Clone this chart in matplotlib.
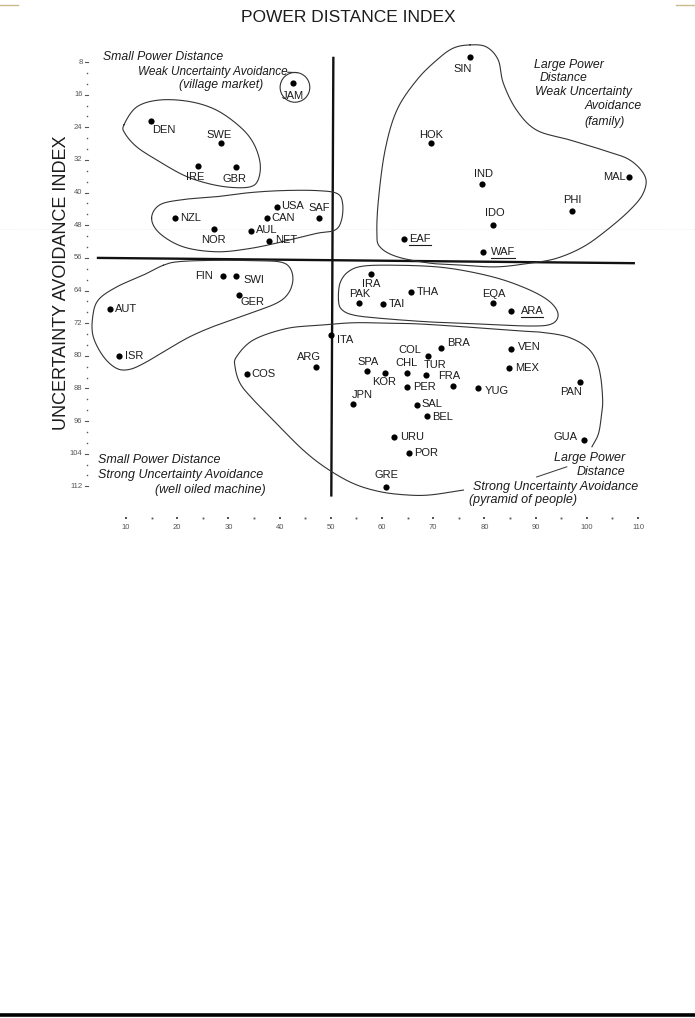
import numpy as np
import matplotlib
matplotlib.use("Agg")
import matplotlib.pyplot as plt
from matplotlib.lines import Line2D
from matplotlib.patches import Ellipse

plt.rcParams['font.family'] = ['Liberation Sans', 'DejaVu Sans']

# country codes with power distance (x) and uncertainty avoidance (y)
codes = ['SIN', 'JAM', 'DEN', 'SWE', 'IRE', 'GBR', 'HOK', 'IND', 'MAL', 'PHI',
         'IDO', 'EAF', 'WAF', 'USA', 'CAN', 'SAF', 'NZL', 'NOR', 'AUL', 'NET',
         'FIN', 'SWI', 'GER', 'AUT', 'ISR', 'IRA', 'PAK', 'THA', 'TAI', 'EQA',
         'ARA', 'ITA', 'ARG', 'COS', 'SPA', 'KOR', 'COL', 'CHL', 'TUR', 'BRA',
         'FRA', 'PER', 'VEN', 'MEX', 'YUG', 'PAN', 'JPN', 'SAL', 'BEL', 'URU',
         'GUA', 'POR', 'GRE']
pdi = [77.1, 42.6, 14.8, 28.5, 24.1, 31.4, 69.5, 79.5, 108.3, 97.2,
       81.7, 64.3, 79.7, 39.4, 37.5, 47.6, 19.5, 27.1, 34.4, 38.0,
       29.0, 31.5, 32.0, 6.9, 8.6, 57.8, 55.6, 65.7, 60.1, 81.7,
       85.1, 50.0, 47.1, 33.6, 57.0, 60.5, 68.9, 64.9, 68.5, 71.6,
       73.9, 64.9, 85.1, 84.9, 78.8, 98.7, 54.3, 66.9, 68.8, 62.3,
       99.5, 65.3, 60.8]
uai = [6.8, 13.2, 22.4, 27.9, 33.4, 33.8, 27.9, 37.8, 36.1, 44.5,
       47.9, 51.3, 54.6, 43.5, 46.3, 46.2, 46.2, 49.0, 49.4, 51.8,
       60.5, 60.5, 65.0, 68.6, 80.1, 60.0, 67.0, 64.4, 67.4, 67.1,
       69.0, 74.9, 82.7, 84.5, 83.7, 84.3, 80.0, 84.1, 84.6, 78.1,
       87.5, 87.7, 78.4, 83.1, 87.8, 86.3, 91.9, 92.1, 94.8, 99.8,
       100.7, 103.7, 112.1]
underlined = ['EAF', 'WAF', 'ARA']

# label placement: offset of label from dot in pixels (right, down) and alignment
place = {
    'JAM': (0, 13, 'center'), 'DEN': (2, 9, 'left'), 'SWE': (-2, -8, 'center'),
    'IRE': (-3, 11, 'center'), 'GBR': (-1, 12, 'center'), 'USA': (5, -1, 'left'),
    'CAN': (5, 0, 'left'), 'SAF': (1, -10, 'center'), 'NZL': (5, 0, 'left'),
    'NOR': (0, 11, 'center'), 'AUL': (5, -1, 'left'), 'NET': (6, -1, 'left'),
    'SIN': (-7, 12, 'center'), 'HOK': (0, -8, 'center'), 'IND': (2, -10, 'center'),
    'MAL': (-4, 0, 'right'), 'PHI': (0, -11, 'center'), 'IDO': (2, -12, 'center'),
    'EAF': (5, 0, 'left'), 'WAF': (8, 0, 'left'), 'FIN': (-10, 0, 'right'),
    'SWI': (7, 4, 'left'), 'GER': (2, 7, 'left'), 'AUT': (5, 0, 'left'),
    'ISR': (6, 0, 'left'), 'ITA': (6, 5, 'left'), 'ARG': (-7, -10, 'center'),
    'COS': (5, 0, 'left'), 'SPA': (1, -9, 'center'), 'JPN': (9, -9, 'center'),
    'IRA': (0, 10, 'center'), 'PAK': (0, -9, 'center'), 'THA': (6, 0, 'left'),
    'TAI': (6, 0, 'left'), 'EQA': (1, -9, 'center'), 'ARA': (10, 0, 'left'),
    'BRA': (6, -5, 'left'), 'COL': (-6, -6, 'right'), 'VEN': (7, -2, 'left'),
    'MEX': (6, 0, 'left'), 'KOR': (0, 9, 'center'), 'CHL': (-1, -10, 'center'),
    'TUR': (-2, -10, 'left'), 'FRA': (-4, -10, 'center'), 'PER': (6, 0, 'left'),
    'YUG': (6, 3, 'left'), 'PAN': (-9, 10, 'center'), 'SAL': (4, -1, 'left'),
    'BEL': (5, 1, 'left'), 'URU': (6, 0, 'left'), 'GUA': (-7, -3, 'right'),
    'POR': (5, 0, 'left'), 'GRE': (0, -12, 'center'),
}

# hand drawn cluster outlines (data units)
nordic_x = [9.6, 12.1, 16.6, 22.5, 27.7, 32.3, 34.9, 36.2, 35.8, 34.2, 30.3, 25.8, 21.2, 16.0, 12.1, 9.8]
nordic_y = [23.4, 19.0, 17.3, 17.7, 19.8, 23.9, 27.9, 32.8, 36.9, 38.6, 38.7, 37.7, 35.7, 32.0, 28.8, 25.5]

anglo_x = [15.0, 16.6, 21.2, 27.7, 34.2, 40.7, 47.2, 51.2, 52.3, 52.1, 50.8, 47.2, 40.7, 34.2, 27.7, 21.2, 16.6]
anglo_y = [46.3, 43.0, 41.7, 41.0, 40.0, 39.5, 39.5, 40.2, 42.6, 46.7, 49.2, 50.0, 52.0, 53.7, 54.5, 53.3, 50.0]

asia_x = [77.2, 80.4, 82.7, 83.7, 86.3, 90.2, 96.7, 103.2, 108.4, 111.4, 111.0, 108.4, 103.9, 99.3,
          94.1, 88.9, 82.4, 75.9, 69.4, 62.9, 59.6, 59.0, 59.3, 60.6, 62.9, 66.8, 70.7, 73.9]
asia_y = [3.8, 4.3, 7.5, 13.2, 19.8, 24.7, 27.1, 29.6, 32.0, 36.1, 40.2, 44.3, 49.2, 53.3,
          56.1, 57.3, 58.2, 57.8, 57.3, 55.7, 53.3, 50.0, 41.8, 29.6, 19.8, 12.4, 7.5, 4.6]

german_x = [17.3, 20.5, 27.7, 35.5, 40.1, 42.0, 42.6, 41.7, 39.4, 34.2, 27.7, 22.5, 17.9, 14.0,
            10.8, 8.2, 5.6, 3.6, 3.5, 4.6, 8.2, 13.4]
german_y = [57.8, 56.9, 56.6, 56.7, 57.0, 58.4, 61.4, 64.7, 67.1, 69.6, 72.5, 75.3, 78.6, 81.5,
            83.3, 83.1, 80.2, 75.3, 70.4, 66.3, 63.1, 60.2]

near_east_x = [51.5, 51.8, 53.4, 56.4, 62.9, 70.7, 77.2, 83.7, 89.6, 93.1, 94.4, 93.1, 88.9, 79.1,
               69.4, 59.6, 54.4, 52.1]
near_east_y = [66.3, 62.2, 59.4, 58.0, 57.8, 58.2, 59.4, 61.4, 64.3, 67.1, 70.0, 72.2, 72.7, 72.2,
               71.7, 70.8, 70.0, 68.6]

latin_x = [75.9, 69.4, 64.8, 59.6, 54.4, 49.2, 44.6, 39.4, 34.9, 32.3, 31.3, 31.6, 34.9, 41.4, 47.9,
           54.4, 60.9, 67.4, 77.2, 86.9, 90.9, 96.1, 99.9, 101.8, 102.7, 103.1, 102.9, 102.3, 101.0]
latin_y = [112.9, 114.1, 114.1, 113.3, 111.3, 107.6, 103.1, 96.6, 90.8, 86.8, 82.7, 80.2, 76.1, 73.3, 72.5,
           71.9, 72.0, 72.2, 73.0, 73.9, 74.2, 75.3, 77.8, 81.0, 85.1, 90.8, 94.1, 99.0, 102.3]

jam_ring = (43.0, 14.2, 5.8, 7.3)  # centre x, centre y, width, height

# dividing lines
vline_x = [50.5, 50.1]
vline_y = [6.7, 114.5]
hline_x = [4.3, 109.4]
hline_y = [56.0, 57.3]

x_ticks = list(range(10, 111, 10))
x_minor = list(range(15, 111, 10))
y_ticks = list(range(8, 113, 8))


def smooth(xs, ys, closed=True, n=24):
    p = np.column_stack([xs, ys]).astype(float)
    if closed:
        p = np.vstack([p[-1], p, p[0], p[1]])
    else:
        p = np.vstack([2 * p[0] - p[1], p, 2 * p[-1] - p[-2]])
    t = np.linspace(0, 1, n, endpoint=False)[:, None]
    out = []
    for i in range(1, len(p) - 2):
        p0, p1, p2, p3 = p[i - 1], p[i], p[i + 1], p[i + 2]
        seg = 0.5 * (2 * p1 + (-p0 + p2) * t + (2 * p0 - 5 * p1 + 4 * p2 - p3) * t ** 2
                     + (-p0 + 3 * p1 - 3 * p2 + p3) * t ** 3)
        out.append(seg)
    out.append(p[-2][None])
    c = np.vstack(out)
    return c[:, 0], c[:, 1]


fig = plt.figure(figsize=(6.95, 10.18), dpi=100)
ax = fig.add_axes([74.8 / 695, 1 - 543.5 / 1018, 614.4 / 695, 514.1 / 1018])
ax.set_xlim(0, 120)
ax.set_ylim(126, 0)
ax.axis('off')

ink = '#1c1c1c'
line_col = '#333333'

# dividing cross
ax.plot(vline_x, vline_y, color='#111111', lw=1.7, solid_capstyle='butt')
ax.plot(hline_x, hline_y, color='#111111', lw=1.7, solid_capstyle='butt')

# outlines
for xs, ys in [(nordic_x, nordic_y), (anglo_x, anglo_y), (asia_x, asia_y),
               (german_x, german_y), (near_east_x, near_east_y)]:
    sx, sy = smooth(xs, ys, closed=True)
    ax.plot(sx, sy, color=line_col, lw=0.8)
sx, sy = smooth(latin_x, latin_y, closed=False)
ax.plot(sx, sy, color=line_col, lw=0.8)
ax.add_patch(Ellipse(jam_ring[:2], jam_ring[2], jam_ring[3], fill=False, ec=line_col, lw=0.8))
ax.plot([41.6, 43.4], [10.5, 10.6], color=line_col, lw=0.8)
ax.plot([90.2, 96.1], [109.7, 107.2], color=line_col, lw=0.7)

# countries
ax.scatter(pdi, uai, s=20, color='black', zorder=5, linewidths=0)
label_artists = {}
for c, x, y in zip(codes, pdi, uai):
    dx, dy, ha = place[c]
    t = ax.annotate(c, (x, y), xytext=(dx, -dy), textcoords='offset pixels',
                    ha=ha, va='center', fontsize=8, color=ink)
    label_artists[c] = t

# quadrant captions
it = dict(style='italic', fontsize=8.8, color=ink)
ib = dict(style='italic', fontsize=9.0, color=ink)
ax.text(5.6, 6.8, 'Small Power Distance', ha='left', va='center', **it)
ax.text(12.4, 10.4, 'Weak Uncertainty Avoidance', ha='left', va='center',
        style='italic', fontsize=8.5, color=ink)
ax.text(28.5, 13.6, '(village market)', ha='center', va='center', **it)

ax.text(89.7, 8.7, 'Large Power', ha='left', va='center', **it)
ax.text(90.7, 11.8, 'Distance', ha='left', va='center', **it)
ax.text(89.9, 15.3, 'Weak Uncertainty', ha='left', va='center', **it)
ax.text(99.6, 18.8, 'Avoidance', ha='left', va='center', **it)
ax.text(99.6, 22.6, '(family)', ha='left', va='center', **it)

ax.text(4.6, 105.5, 'Small Power Distance', ha='left', va='center', **ib)
ax.text(4.6, 109.2, 'Strong Uncertainty Avoidance', ha='left', va='center', **ib)
ax.text(15.7, 112.9, '(well oiled machine)', ha='left', va='center', **ib)

ax.text(107.5, 105.1, 'Large Power', ha='right', va='center', **ib)
ax.text(107.5, 108.4, 'Distance', ha='right', va='center', **ib)
ax.text(77.7, 112.1, 'Strong Uncertainty Avoidance', ha='left', va='center', **ib)
ax.text(77.0, 115.4, '(pyramid of people)', ha='left', va='center', **ib)

# axis ticks drawn by hand like the original
tick_col = '#555555'
for v in y_ticks:
    ax.text(1.5, v, str(v), ha='right', va='center', fontsize=5.5, color=tick_col)
    ax.plot([1.9, 2.6], [v, v], color=tick_col, lw=0.8, clip_on=False)
    for k in (1, 2):
        m = v + 8 * k / 3
        if m < 113:
            ax.plot(2.3, m, marker='s', ms=1.0, color=tick_col, mew=0, clip_on=False)
for v in x_ticks:
    ax.plot(v, 119.8, marker='s', ms=1.5, color=tick_col, mew=0, clip_on=False)
    ax.text(v, 122.2, str(v), ha='center', va='center', fontsize=5.5, color=tick_col)
for v in x_minor:
    ax.plot(v, 119.8, marker='s', ms=1.3, color=tick_col, mew=0, clip_on=False)

# titles
fig.text(348 / 695, 1 - 18 / 1018, 'POWER DISTANCE INDEX', ha='center', va='center',
         fontsize=12.5, color=ink)
fig.text(62 / 695, 1 - 283 / 1018, 'UNCERTAINTY AVOIDANCE INDEX', ha='center', va='center',
         rotation=90, fontsize=13, color=ink)

# scan decorations
fig.add_artist(Line2D([0, 18 / 695], [1 - 5 / 1018] * 2, color='#c9bb8e', lw=1.0))
fig.add_artist(Line2D([676 / 695, 1], [1 - 5 / 1018] * 2, color='#c9bb8e', lw=1.0))
fig.add_artist(Line2D([0, 1], [1 - 1015 / 1018] * 2, color='black', lw=2.6))
fig.add_artist(Line2D([0, 1], [1 - 229 / 1018] * 2, color='#e6e6e6', lw=0.5,
                      ls=(0, (1, 2)), zorder=-1))

# underline selected codes
fig.canvas.draw()
r = fig.canvas.get_renderer()
W, H = fig.canvas.get_width_height()
for c in underlined:
    bb = label_artists[c].get_window_extent(r)
    yb = bb.y0 - 1
    fig.add_artist(Line2D([bb.x0 / W, bb.x1 / W], [yb / H, yb / H], color=ink, lw=0.8))

fig.savefig('out.png', dpi=100)
